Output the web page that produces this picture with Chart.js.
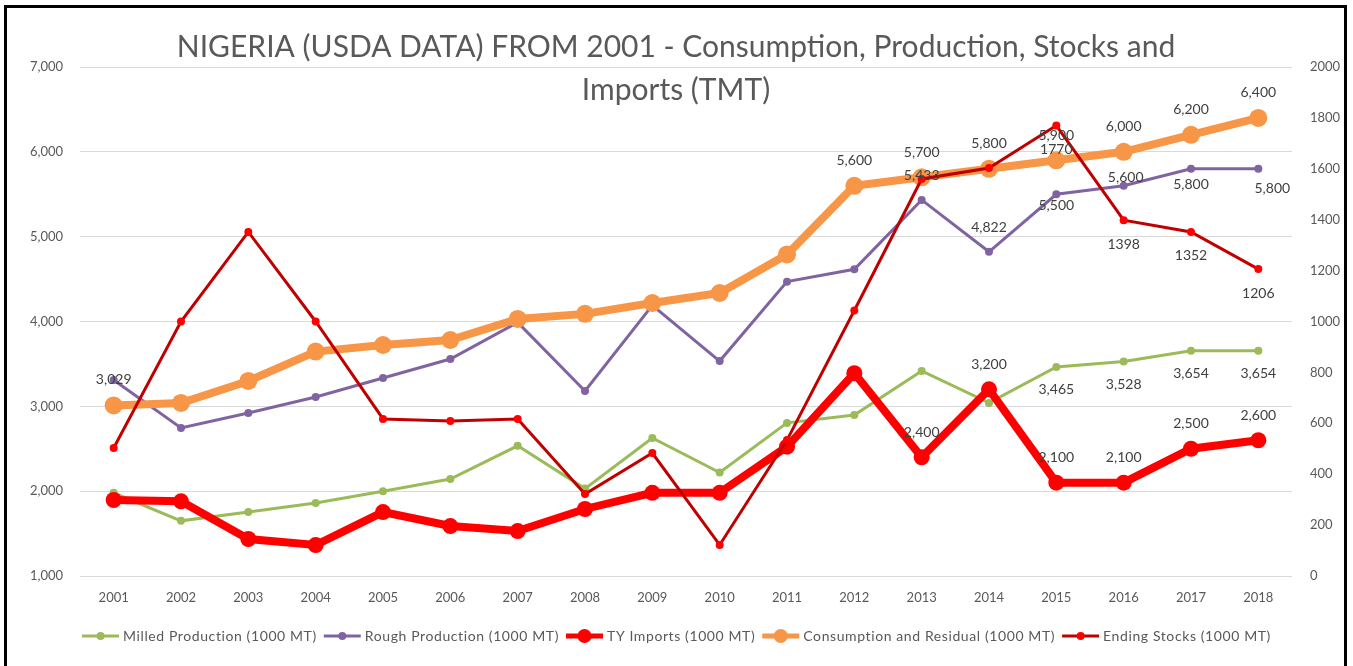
<!DOCTYPE html>
<html lang="en">
<head>
    <meta charset="UTF-8">
    <title>Nigeria USDA data</title>
    <script src="https://cdn.jsdelivr.net/npm/chart.js"></script>
    <style>
        body {
            margin: 0;
            overflow: hidden;
            background: #fff;
        }
        .frame {
            position: absolute;
            left: 4px;
            top: 5px;
            width: 1337px;
            height: 700px;
            border: 3px solid #000;
            border-bottom: none;
            pointer-events: none;
        }
        canvas {
            position: absolute;
            left: 0;
            top: 0;
        }
    </style>
</head>
<body>
<canvas id="riceChart" width="1353" height="666"></canvas>
<div class="frame"></div>

<script>
    // data
    const years = ['2001', '2002', '2003', '2004', '2005', '2006', '2007', '2008', '2009',
        '2010', '2011', '2012', '2013', '2014', '2015', '2016', '2017', '2018'];

    const milled = [1980, 1650, 1755, 1860, 2000, 2143, 2535, 2030, 2627, 2220, 2805, 2898, 3417, 3040, 3465, 3528, 3654, 3654];
    const rough = [3310, 2745, 2922, 3110, 3334, 3558, 3990, 3181, 4190, 3534, 4470, 4615, 5433, 4822, 5500, 5600, 5800, 5800];
    const imports = [1896, 1880, 1436, 1365, 1754, 1589, 1530, 1790, 1980, 1980, 2525, 3390, 2400, 3200, 2100, 2100, 2500, 2600];
    const consumption = [3010, 3040, 3299, 3645, 3723, 3782, 4030, 4090, 4218, 4336, 4790, 5600, 5700, 5800, 5900, 6000, 6200, 6400];
    const endingStocks = [503, 1000, 1352, 1000, 617, 609, 617, 322, 483, 122, 534, 1043, 1560, 1603, 1770, 1398, 1352, 1206];

    // data label texts (null = no label)
    const milledLabels = [null, null, null, null, null, null, null, null, null, null, null, null, null, null, '3,465', '3,528', '3,654', '3,654'];
    const roughLabels = ['3,029', null, null, null, null, null, null, null, null, null, null, null, '5,433', '4,822', '5,500', '5,600', '5,800', '5,800'];
    const importLabels = [null, null, null, null, null, null, null, null, null, null, null, null, '2,400', '3,200', '2,100', '2,100', '2,500', '2,600'];
    const consumptionLabels = [null, null, null, null, null, null, null, null, null, null, null, '5,600', '5,700', '5,800', '5,900', '6,000', '6,200', '6,400'];
    const stockLabels = [null, null, null, null, null, null, null, null, null, null, null, null, null, null, '1770', '1398', '1352', '1206'];

    const leftTicks = [1000, 2000, 3000, 4000, 5000, 6000, 7000];

    const titleLines = ['NIGERIA (USDA DATA) FROM 2001 - Consumption, Production, Stocks and', 'Imports (TMT)'];

    const FONT = 'Lato, "Open Sans", sans-serif';
    const GREY = '#595959';

    // label offsets per series: [dx, dy] default, with per-point overrides
    const labelPlacement = {
        0: { def: [0, 23] },
        1: { def: [0, -24], over: { 0: [0, -1], 14: [0, 11], 15: [2, -8], 16: [0, 16], 17: [14, 20] } },
        2: { def: [0, -25] },
        3: { def: [0, -25] },
        4: { def: [0, 24] }
    };

    const allLabels = [milledLabels, roughLabels, importLabels, consumptionLabels, stockLabels];

    const dataLabelPlugin = {
        id: 'dataLabels',
        afterDatasetsDraw(chart) {
            const ctx = chart.ctx;
            ctx.save();
            ctx.font = '14px ' + FONT;
            ctx.fillStyle = '#404040';
            ctx.textAlign = 'center';
            ctx.textBaseline = 'middle';
            chart.data.datasets.forEach((ds, i) => {
                const meta = chart.getDatasetMeta(i);
                const place = labelPlacement[i];
                allLabels[i].forEach((txt, j) => {
                    if (!txt) return;
                    const pt = meta.data[j];
                    const off = (place.over && place.over[j]) || place.def;
                    ctx.fillText(txt, pt.x + off[0], pt.y + off[1]);
                });
            });
            ctx.restore();
        }
    };

    const titlePlugin = {
        id: 'overTitle',
        afterDraw(chart) {
            const ctx = chart.ctx;
            ctx.save();
            ctx.font = '30px ' + FONT;
            ctx.fillStyle = GREY;
            ctx.textAlign = 'center';
            ctx.textBaseline = 'middle';
            ctx.fillText(titleLines[0], 676, 47);
            ctx.fillText(titleLines[1], 676, 90);
            ctx.restore();
        }
    };

    const legendPlugin = {
        id: 'bottomLegend',
        afterDraw(chart) {
            const ctx = chart.ctx;
            ctx.save();
            ctx.font = '14px ' + FONT;
            ctx.letterSpacing = '0.6px';
            ctx.textBaseline = 'middle';
            const lineLen = 37, gap = 4, itemGap = 7;
            const items = chart.data.datasets.map(ds => ({
                ds: ds,
                w: lineLen + gap + ctx.measureText(ds.label).width
            }));
            const total = items.reduce((s, it) => s + it.w, 0) + itemGap * (items.length - 1);
            let x = (chart.width - total) / 2;
            const y = 636;
            items.forEach(it => {
                const ds = it.ds;
                ctx.strokeStyle = ds.borderColor;
                ctx.lineWidth = Math.min(ds.borderWidth, 5);
                ctx.beginPath();
                ctx.moveTo(x, y);
                ctx.lineTo(x + lineLen, y);
                ctx.stroke();
                ctx.fillStyle = ds.pointBackgroundColor;
                ctx.beginPath();
                ctx.arc(x + lineLen / 2, y, Math.min(ds.pointRadius, 7), 0, Math.PI * 2);
                ctx.fill();
                ctx.fillStyle = GREY;
                ctx.fillText(ds.label, x + lineLen + gap, y);
                x += it.w + itemGap;
            });
            ctx.restore();
        }
    };

    const ctx = document.getElementById('riceChart').getContext('2d');

    new Chart(ctx, {
        type: 'line',
        data: {
            labels: years,
            datasets: [
                {
                    label: 'Milled Production (1000 MT)',
                    data: milled,
                    yAxisID: 'y',
                    borderColor: '#9bbb59',
                    pointBackgroundColor: '#9bbb59',
                    borderWidth: 3,
                    pointRadius: 4,
                    pointBorderWidth: 0,
                    order: 5
                },
                {
                    label: 'Rough Production (1000 MT)',
                    data: rough,
                    yAxisID: 'y',
                    borderColor: '#8064a2',
                    pointBackgroundColor: '#8064a2',
                    borderWidth: 3,
                    pointRadius: 4,
                    pointBorderWidth: 0,
                    order: 4
                },
                {
                    label: 'TY Imports (1000 MT)',
                    data: imports,
                    yAxisID: 'y',
                    borderColor: '#ff0000',
                    pointBackgroundColor: '#ff0000',
                    borderWidth: 8,
                    pointRadius: 8,
                    pointBorderWidth: 0,
                    order: 3
                },
                {
                    label: 'Consumption and Residual (1000 MT)',
                    data: consumption,
                    yAxisID: 'y',
                    borderColor: '#f79646',
                    pointBackgroundColor: '#f79646',
                    borderWidth: 8,
                    pointRadius: 9,
                    pointBorderWidth: 0,
                    order: 2
                },
                {
                    label: 'Ending Stocks (1000 MT)',
                    data: endingStocks,
                    yAxisID: 'y2',
                    borderColor: '#c00000',
                    pointBackgroundColor: '#ff0000',
                    borderWidth: 3,
                    pointRadius: 4,
                    pointBorderWidth: 0,
                    order: 1
                }
            ]
        },
        options: {
            responsive: false,
            animation: false,
            layout: {
                padding: { top: 67, bottom: 50, left: 0, right: 0 }
            },
            plugins: {
                legend: { display: false },
                title: { display: false },
                tooltip: { enabled: false }
            },
            scales: {
                x: {
                    offset: true,
                    grid: { display: false, drawTicks: false },
                    border: { display: false },
                    ticks: {
                        color: GREY,
                        font: { family: FONT, size: 13 },
                        padding: 14,
                        maxRotation: 0,
                        autoSkip: false
                    },
                    afterFit(scale) { scale.height = 40; }
                },
                y: {
                    position: 'left',
                    min: leftTicks[0],
                    max: leftTicks[leftTicks.length - 1],
                    grid: { color: '#d9d9d9', lineWidth: 1, drawTicks: false },
                    border: { display: false },
                    ticks: {
                        stepSize: 1000,
                        color: GREY,
                        font: { family: FONT, size: 13 },
                        padding: 17,
                        callback: v => v.toLocaleString('en-US')
                    },
                    afterFit(scale) { scale.width = 80; }
                },
                y2: {
                    position: 'right',
                    min: 0,
                    max: 2000,
                    grid: { display: false, drawTicks: false },
                    border: { display: false },
                    ticks: {
                        stepSize: 200,
                        color: GREY,
                        font: { family: FONT, size: 13 },
                        padding: 18,
                        callback: v => String(v)
                    },
                    afterFit(scale) { scale.width = 61; }
                }
            }
        },
        plugins: [dataLabelPlugin, titlePlugin, legendPlugin]
    });
</script>
</body>
</html>
